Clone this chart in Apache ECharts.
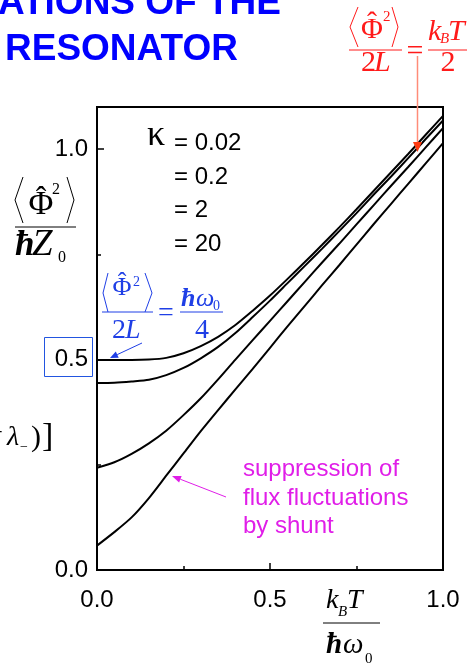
<!DOCTYPE html>
<html>
<head>
<meta charset="utf-8">
<script src="https://cdn.jsdelivr.net/npm/echarts@6/dist/echarts.min.js"></script>
<style>
  html, body { margin: 0; padding: 0; background: #fff; }
  #chart { width: 469px; height: 665px; }
</style>
</head>
<body>
<div id="chart"></div>
<script>
// Reduced temperature k_B T / (hbar w0) at which the curves are sampled
const temperature = [0, 0.05, 0.1, 0.15, 0.2, 0.25, 0.3, 0.35, 0.4, 0.45, 0.5,
                     0.55, 0.6, 0.65, 0.7, 0.75, 0.8, 0.85, 0.9, 0.95, 1.0];

// Normalised flux fluctuations <Phi^2>/(hbar Z0) for each damping kappa
const kappaLabels = ['0.02', '0.2', '2', '20'];
const fluxKappa002 = [0.499, 0.499, 0.499, 0.500, 0.504, 0.515, 0.532, 0.554, 0.582, 0.616, 0.652,
                      0.691, 0.731, 0.772, 0.814, 0.857, 0.901, 0.945, 0.989, 1.034, 1.079];
const fluxKappa02  = [0.444, 0.445, 0.448, 0.452, 0.463, 0.480, 0.503, 0.530, 0.563, 0.601, 0.640,
                      0.681, 0.722, 0.763, 0.805, 0.848, 0.892, 0.935, 0.979, 1.024, 1.068];
const fluxKappa2   = [0.243, 0.256, 0.276, 0.301, 0.331, 0.368, 0.408, 0.453, 0.500, 0.546, 0.592,
                      0.638, 0.684, 0.730, 0.775, 0.821, 0.867, 0.913, 0.958, 1.004, 1.050];
const fluxKappa20  = [0.058, 0.090, 0.125, 0.171, 0.224, 0.277, 0.330, 0.380, 0.429, 0.478, 0.528,
                      0.578, 0.627, 0.676, 0.724, 0.773, 0.822, 0.870, 0.918, 0.966, 1.014];

// Axis tick labels
const xTickLabels = ['0.0', '0.5', '1.0'];
const yTickLabels = ['0.0', '0.5', '1.0'];

const annotationLines = ['suppression of', 'flux fluctuations', 'by shunt'];

const SANS = '"Liberation Sans", Arial, sans-serif';
const SERIF = '"Liberation Serif", "Times New Roman", serif';
const BLUE = '#1f3fe6';
const RED = '#ff1a1a';
const MAGENTA = '#e01ee8';

// ---- small drawing helpers for the formulas and annotations ----
function txt(str, x, baseline, size, opt) {
  opt = opt || {};
  const serif = opt.family !== 'sans';
  const font = (opt.style || '') + ' ' + (opt.weight || '') + ' ' + size + 'px ' + (serif ? SERIF : SANS);
  return {
    type: 'text', silent: true, z: 100,
    x: x, y: baseline - (serif ? 0.34 : 0.35) * size,
    style: {
      text: str, font: font.trim(), fill: opt.color || '#000',
      align: opt.align || 'left', verticalAlign: 'middle'
    }
  };
}
function seg(x1, y1, x2, y2, color, w) {
  return { type: 'line', silent: true, z: 100,
    shape: { x1: x1, y1: y1, x2: x2, y2: y2 },
    style: { stroke: color, lineWidth: w || 1 } };
}
function poly(points, color, w) {
  return { type: 'polyline', silent: true, z: 100,
    shape: { points: points }, style: { stroke: color, fill: null, lineWidth: w || 1 } };
}
function arrow(x1, y1, x2, y2, color, headColor, w, headLen, headHalf) {
  const dx = x2 - x1, dy = y2 - y1, len = Math.hypot(dx, dy);
  const ux = dx / len, uy = dy / len;
  const bx = x2 - ux * headLen, by = y2 - uy * headLen;
  return [
    seg(x1, y1, bx, by, color, w),
    { type: 'polygon', silent: true, z: 101,
      shape: { points: [[x2, y2], [bx - uy * headHalf, by + ux * headHalf], [bx + uy * headHalf, by - ux * headHalf]] },
      style: { fill: headColor } }
  ];
}

const art = [];

// Heading (blue, bold)
art.push(txt('ATIONS OF THE', -2, 17, 37, { family: 'sans', weight: 'bold', color: '#0000ff' }));
art.push(txt('RESONATOR', 5, 63, 37, { family: 'sans', weight: 'bold', color: '#0000ff' }));

// Red formula: <Phi^2>/2L = k_B T / 2
art.push(poly([[358, 7], [350, 27], [358, 47]], RED));
art.push(poly([[392, 7], [398, 27], [392, 47]], RED));
art.push(txt('Φ', 372, 40, 30, { align: 'center', color: RED }));
art.push(txt('ˆ', 372, 34, 30, { align: 'center', color: RED }));
art.push(txt('2', 383, 22, 15, { color: RED }));
art.push(seg(349, 50, 402, 50, RED, 1));
art.push(txt('2', 361, 73, 30, { color: RED }));
art.push(txt('L', 374, 73, 30, { style: 'italic', color: RED }));
art.push(txt('=', 415, 62, 30, { align: 'center', color: RED }));
art.push(txt('k', 428, 42, 30, { style: 'italic', color: RED }));
art.push(txt('B', 440, 44, 15, { style: 'italic', color: RED }));
art.push(txt('T', 448, 42, 30, { style: 'italic', color: RED }));
art.push(seg(428, 50, 467, 50, RED, 1));
art.push(txt('2', 448, 73, 30, { align: 'center', color: RED }));
art.push(...arrow(417.5, 56, 417.5, 152, '#ff8c78', '#ff3a10', 1.5, 10, 4.5));

// Y-axis title: <Phi^2>/(hbar Z0)
art.push(poly([[23, 177], [15, 200], [23, 223]], '#000'));
art.push(poly([[67, 177], [74, 200], [67, 223]], '#000'));
art.push(txt('Φ', 41, 217, 34, { align: 'center' }));
art.push(txt('ˆ', 41, 210, 32, { align: 'center' }));
art.push(txt('2', 52, 195, 16));
art.push(seg(15, 227, 76, 227, '#000', 1));
art.push(txt('ħ', 15, 258, 35, { style: 'italic', weight: 'bold' }));
art.push(txt('Z', 32, 258, 37, { style: 'italic' }));
art.push(txt('0', 58, 263, 16));

// X-axis title: k_B T / (hbar w0)
art.push(txt('k', 326, 610, 28, { style: 'italic' }));
art.push(txt('B', 338, 617, 15, { style: 'italic' }));
art.push(txt('T', 347, 610, 28, { style: 'italic' }));
art.push(seg(323, 623, 380, 623, '#000', 1));
art.push(txt('ħ', 326, 655, 29, { style: 'italic', weight: 'bold' }));
art.push(txt('ω', 343, 655, 29, { style: 'italic' }));
art.push(txt('0', 365, 664, 15));

// Fragment of an expression at the left edge
art.push(txt('+', 3, 443, 28, { align: 'right' }));
art.push(txt('λ', 7, 447, 28, { style: 'italic' }));
art.push(txt('−', 20, 452, 14));
art.push(txt(')', 31, 448, 30));
art.push(txt(']', 42, 449, 34));

// Kappa legend
art.push(txt('κ', 147, 148, 36));
kappaLabels.forEach(function (k, i) {
  art.push(txt('= ' + k, 174, 151.5 + i * 33.8, 24, { family: 'sans' }));
});

// Blue formula: <Phi^2>/2L = hbar w0 / 4, with arrow to the T=0 value
art.push(poly([[108, 273], [103, 293], [108, 312]], BLUE));
art.push(poly([[145, 273], [152, 293], [145, 312]], BLUE));
art.push(txt('Φ', 122, 297, 26, { align: 'center', color: BLUE }));
art.push(txt('ˆ', 122, 292, 26, { align: 'center', color: BLUE }));
art.push(txt('2', 133, 287, 14, { color: BLUE }));
art.push(seg(102, 312, 153, 312, BLUE, 1));
art.push(txt('2', 112, 340, 28, { color: BLUE }));
art.push(txt('L', 125, 340, 28, { style: 'italic', color: BLUE }));
art.push(txt('=', 166, 323, 28, { align: 'center', color: BLUE }));
art.push(txt('ħ', 181, 308, 26, { style: 'italic', weight: 'bold', color: BLUE }));
art.push(txt('ω', 196, 308, 26, { style: 'italic', color: BLUE }));
art.push(txt('0', 213, 311, 14, { color: BLUE }));
art.push(seg(180, 312, 223, 312, BLUE, 1));
art.push(txt('4', 202, 340, 28, { align: 'center', color: BLUE }));
art.push(...arrow(142, 343, 110, 358, BLUE, BLUE, 1, 8, 3.5));

// Box round the 0.5 tick label
art.push({ type: 'rect', silent: true, z: 100,
  shape: { x: 44.5, y: 337.5, width: 48, height: 39 },
  style: { fill: null, stroke: '#2255e0', lineWidth: 1 } });

// Magenta note with arrow to the kappa = 20 curve
annotationLines.forEach(function (line, i) {
  art.push(txt(line, 243, 478 + i * 28.5, 24, { family: 'sans', color: MAGENTA }));
});
art.push(...arrow(226, 497, 172, 476, MAGENTA, MAGENTA, 1, 9, 3.5));

function pairs(values) {
  return temperature.map(function (t, i) { return [t, values[i]]; });
}
function curve(name, values) {
  return {
    type: 'line', name: name, data: pairs(values),
    smooth: 0.25, showSymbol: false, symbol: 'none',
    lineStyle: { color: '#000', width: 2 }, z: 5
  };
}

const tickText = function (labels) {
  return function (v) {
    const s = v.toFixed(1);
    return labels.indexOf(s) >= 0 && Math.abs(v * 2 - Math.round(v * 2)) < 1e-9 ? s : '';
  };
};

const chart = echarts.init(document.getElementById('chart'), null, { renderer: 'canvas' });
chart.setOption({
  animation: false,
  backgroundColor: '#fff',
  grid: {
    left: 97, right: 26, top: 107, bottom: 95,
    show: true, borderColor: '#000', borderWidth: 2, backgroundColor: 'transparent',
    containLabel: false, outerBoundsMode: 'none'
  },
  xAxis: {
    type: 'value', min: 0, max: 1, interval: 0.5,
    axisLine: { show: true, lineStyle: { color: '#000', width: 2 } },
    axisTick: { show: true, inside: true, length: 7, lineStyle: { color: '#000', width: 1.5 } },
    minorTick: { show: true, splitNumber: 2, length: 4, lineStyle: { color: '#000', width: 1.5 } },
    splitLine: { show: false },
    axisLabel: { formatter: tickText(xTickLabels), color: '#000', fontSize: 24, fontFamily: SANS, margin: 18 }
  },
  yAxis: [{
    type: 'value', min: 0, max: 1.1, interval: 0.5,
    axisLine: { show: true, lineStyle: { color: '#000', width: 2 } },
    axisTick: { show: true, inside: true, length: 7, lineStyle: { color: '#000', width: 1.5 } },
    splitLine: { show: false },
    axisLabel: { formatter: tickText(yTickLabels), color: '#000', fontSize: 24, fontFamily: SANS, margin: 9 }
  }, {
    type: 'value', min: 0, max: 1.1, interval: 0.25, position: 'left',
    axisLine: { show: false },
    axisTick: { show: true, inside: true, length: 4, lineStyle: { color: '#000', width: 1.5 } },
    splitLine: { show: false },
    axisLabel: { show: false }
  }],
  series: [
    curve('κ = 0.02', fluxKappa002),
    curve('κ = 0.2', fluxKappa02),
    curve('κ = 2', fluxKappa2),
    curve('κ = 20', fluxKappa20)
  ],
  graphic: art
});
</script>
</body>
</html>
